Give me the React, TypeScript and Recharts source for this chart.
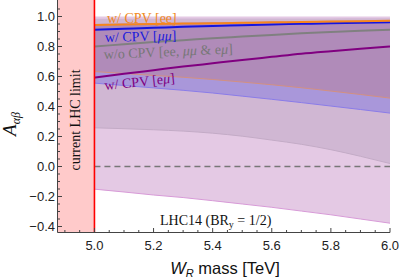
import React from 'react';
import { ComposedChart, Area, Line, XAxis, YAxis, ReferenceArea, ReferenceLine } from 'recharts';

// W_R mass [TeV]
const massTeV = [5.0, 5.1, 5.2, 5.3, 5.4, 5.5, 5.6, 5.7, 5.8, 5.9, 6.0];

// central lines
const lineEE = [0.944, 0.947, 0.95, 0.953, 0.955, 0.958, 0.961, 0.963, 0.966, 0.968, 0.971];
const lineMuMu = [0.911, 0.918, 0.925, 0.931, 0.937, 0.942, 0.947, 0.951, 0.955, 0.958, 0.961];
const lineNoCPV = [0.8, 0.815, 0.83, 0.842, 0.855, 0.866, 0.877, 0.888, 0.897, 0.905, 0.912];
const lineEMu = [0.593, 0.618, 0.642, 0.666, 0.688, 0.71, 0.731, 0.752, 0.769, 0.785, 0.8];

// bands (low / high)
const bandEELow = [0.633, 0.62, 0.607, 0.595, 0.58, 0.563, 0.545, 0.525, 0.503, 0.48, 0.456];
const bandEEHigh = [0.95, 0.953, 0.956, 0.959, 0.961, 0.964, 0.967, 0.969, 0.972, 0.974, 0.977];
const bandMuMuLow = [0.556, 0.54, 0.524, 0.508, 0.49, 0.469, 0.448, 0.426, 0.403, 0.38, 0.356];
const bandMuMuHigh = [0.922, 0.929, 0.936, 0.942, 0.948, 0.953, 0.958, 0.962, 0.966, 0.969, 0.972];
const bandNoCPVLow = [0.258, 0.252, 0.245, 0.236, 0.222, 0.202, 0.176, 0.148, 0.112, 0.068, 0.02];
const bandNoCPVHigh = [0.985, 0.985, 0.985, 0.986, 0.986, 0.986, 0.987, 0.987, 0.987, 0.988, 0.988];
const bandEMuLow = [-0.151, -0.17, -0.19, -0.207, -0.228, -0.25, -0.272, -0.297, -0.322, -0.35, -0.378];
const bandEMuHigh = [1.0, 1.0, 1.0, 1.0, 1.0, 1.0, 1.0, 1.0, 1.0, 1.0, 1.0];

const currentLimit = 5.0;
const xDomain = [4.875, 6.0];
const yDomain = [-0.44, 1.11];
const xTicks = [4.9, 4.95, 5.0, 5.05, 5.1, 5.15, 5.2, 5.25, 5.3, 5.35, 5.4, 5.45, 5.5, 5.55, 5.6, 5.65, 5.7, 5.75, 5.8, 5.85, 5.9, 5.95, 6.0];
const yTicks = [-0.4, -0.35, -0.3, -0.25, -0.2, -0.15, -0.1, -0.05, 0, 0.05, 0.1, 0.15, 0.2, 0.25, 0.3, 0.35, 0.4, 0.45, 0.5, 0.55, 0.6, 0.65, 0.7, 0.75, 0.8, 0.85, 0.9, 0.95, 1.0, 1.05];

const data = massTeV.map((m, i) => ({
  m,
  ee: lineEE[i],
  mumu: lineMuMu[i],
  nocpv: lineNoCPV[i],
  emu: lineEMu[i],
  eeLow: bandEELow[i],
  mumuLow: bandMuMuLow[i],
  nocpvLow: bandNoCPVLow[i],
  emuLow: bandEMuLow[i],
  eeBand: [bandEELow[i], bandEEHigh[i]],
  mumuBand: [bandMuMuLow[i], bandMuMuHigh[i]],
  nocpvBand: [bandNoCPVLow[i], bandNoCPVHigh[i]],
  emuBand: [bandEMuLow[i], bandEMuHigh[i]],
}));

const isMajor = (v: number) => Math.abs(v * 5 - Math.round(v * 5)) < 1e-6;
const fmt = (v: number) => (v < -1e-9 ? '\u2212' + Math.abs(v).toFixed(1) : Math.abs(v).toFixed(1));
const AX = '#444';
const TM = 6;
const tickFont = { fontFamily: '"Liberation Sans", Arial, sans-serif', fontSize: 13, fill: '#222' };

const BottomTick = (p: any) => {
  const v = p.payload.value;
  const major = isMajor(v);
  const ay = p.y - TM;
  return (
    <g>
      <line x1={p.x} x2={p.x} y1={ay} y2={ay - (major ? 4.5 : 2.5)} stroke={AX} />
      {major && (
        <text x={p.x} y={ay + 17} textAnchor="middle" {...tickFont}>
          {fmt(v)}
        </text>
      )}
    </g>
  );
};
const TopTick = (p: any) => {
  const major = isMajor(p.payload.value);
  return <line x1={p.x} x2={p.x} y1={p.y} y2={p.y + (major ? 4.5 : 2.5)} stroke={AX} />;
};
const LeftTick = (p: any) => {
  const v = p.payload.value;
  const major = isMajor(v);
  const axx = p.x + TM;
  return (
    <g>
      <line x1={axx} x2={axx + (major ? 4.5 : 2.5)} y1={p.y} y2={p.y} stroke={AX} />
      {major && (
        <text x={axx - 2.5} y={p.y + 4.7} textAnchor="end" {...tickFont}>
          {fmt(v)}
        </text>
      )}
    </g>
  );
};
const RightTick = (p: any) => {
  const major = isMajor(p.payload.value);
  return <line x1={p.x} x2={p.x - (major ? 4.5 : 2.5)} y1={p.y} y2={p.y} stroke={AX} />;
};

const serif = '"Liberation Serif", "Times New Roman", serif';

export default function App() {
  return (
    <div style={{ position: 'fixed', left: 0, top: 0, width: 401, height: 278, background: '#fff' }}>
      <ComposedChart width={401} height={278} data={data} margin={{ top: 0, right: 11, bottom: 0, left: 0 }}>
        <XAxis dataKey="m" type="number" domain={xDomain} ticks={xTicks} allowDataOverflow
          height={45.5} tickSize={0} tickMargin={TM} tickLine={false} axisLine={{ stroke: AX }} tick={<BottomTick />} interval={0} />
        <XAxis xAxisId="top" orientation="top" dataKey="m" type="number" domain={xDomain} ticks={xTicks} allowDataOverflow
          height={0} tickSize={0} tickMargin={0} tickLine={false} axisLine={{ stroke: AX }} tick={<TopTick />} interval={0} />
        <YAxis type="number" domain={yDomain} ticks={yTicks} allowDataOverflow width={57.5}
          tickSize={0} tickMargin={TM} tickLine={false} axisLine={{ stroke: AX }} tick={<LeftTick />} interval={0} />
        <YAxis yAxisId="right" orientation="right" type="number" domain={yDomain} ticks={yTicks} allowDataOverflow width={0}
          tickSize={0} tickMargin={0} tickLine={false} axisLine={{ stroke: AX }} tick={<RightTick />} interval={0} />

        <ReferenceArea x1={xDomain[0]} x2={currentLimit} y1={yDomain[0]} y2={yDomain[1]} fill="#ffcaca" fillOpacity={1} stroke="none" />

        <Area dataKey="emuBand" type="monotone" fill="#e4c9e4" fillOpacity={1} stroke="none" isAnimationActive={false} dot={false} activeDot={false} />
        <Area dataKey="nocpvBand" type="monotone" fill="#d0b7d3" fillOpacity={1} stroke="none" isAnimationActive={false} dot={false} activeDot={false} />
        <Area dataKey="mumuBand" type="monotone" fill="#a997da" fillOpacity={1} stroke="none" isAnimationActive={false} dot={false} activeDot={false} />
        <Area dataKey="eeBand" type="monotone" fill="#b08bb9" fillOpacity={1} stroke="none" isAnimationActive={false} dot={false} activeDot={false} />

        <Line dataKey="emuLow" type="monotone" stroke="#d79ad7" strokeWidth={1} dot={false} activeDot={false} isAnimationActive={false} />
        <Line dataKey="nocpvLow" type="monotone" stroke="#c3abc6" strokeWidth={1} dot={false} activeDot={false} isAnimationActive={false} />
        <Line dataKey="mumuLow" type="monotone" stroke="#8a7ce8" strokeWidth={1} dot={false} activeDot={false} isAnimationActive={false} />
        <Line dataKey="eeLow" type="monotone" stroke="#d39080" strokeWidth={1} dot={false} activeDot={false} isAnimationActive={false} />

        <ReferenceLine segment={[{ x: currentLimit, y: 0 }, { x: xDomain[1], y: 0 }]} stroke="#777" strokeWidth={1.5} strokeDasharray="6 4" />

        <Line dataKey="nocpv" type="monotone" stroke="#808080" strokeWidth={2} dot={false} activeDot={false} isAnimationActive={false} />
        <Line dataKey="emu" type="monotone" stroke="#800080" strokeWidth={2} dot={false} activeDot={false} isAnimationActive={false} />
        <Line dataKey="mumu" type="monotone" stroke="#1414e0" strokeWidth={2} dot={false} activeDot={false} isAnimationActive={false} />
        <Line dataKey="ee" type="monotone" stroke="#f7861c" strokeWidth={2} dot={false} activeDot={false} isAnimationActive={false} />

        <ReferenceLine x={currentLimit} stroke="#ff0000" strokeWidth={1.6} />
      </ComposedChart>

      <svg width={401} height={278} style={{ position: 'absolute', left: 0, top: 0, pointerEvents: 'none' }}>
        <text transform="translate(79.5,120) rotate(-90)" textAnchor="middle" fontFamily={serif} fontSize={14} fill="#111">
          current LHC limit
        </text>
        <text transform="translate(16,124) rotate(-90)" textAnchor="middle" fontFamily={serif} fontSize={19} fontStyle="italic" fill="#111">
          <tspan>A</tspan>
          <tspan fontSize={12} dy={4}>αβ</tspan>
        </text>
        <text x={225} y={274} textAnchor="middle" fontFamily='"Liberation Sans", Arial, sans-serif' fontSize={16.5} fill="#111">
          <tspan fontStyle="italic">W</tspan>
          <tspan fontStyle="italic" fontSize={11} dy={3}>R</tspan>
          <tspan dy={-3}> mass [TeV]</tspan>
        </text>
        <text x={107} y={22.5} fontFamily={serif} fontSize={14} fill="#f08a24">w/ CPV [ee]</text>
        <text x={105} y={42} fontFamily={serif} fontSize={14} fill="#1a1adc" transform="rotate(-1.5,105,42)">
          w/ CPV [<tspan fontStyle="italic">μμ</tspan>]
        </text>
        <text x={104} y={59} fontFamily={serif} fontSize={14} fill="#777" transform="rotate(-2.5,104,59)">
          w/o CPV [ee, <tspan fontStyle="italic">μμ</tspan> &amp; e<tspan fontStyle="italic">μ</tspan>]
        </text>
        <text x={105} y={90} fontFamily={serif} fontSize={14} fill="#800080" transform="rotate(-6,105,90)">
          w/ CPV [e<tspan fontStyle="italic">μ</tspan>]
        </text>
        <text x={160} y={225} fontFamily={serif} fontSize={14} fill="#111">
          LHC14 (BR<tspan fontSize={10} dy={3}>y</tspan><tspan dy={-3}> = 1/2)</tspan>
        </text>
      </svg>
    </div>
  );
}
